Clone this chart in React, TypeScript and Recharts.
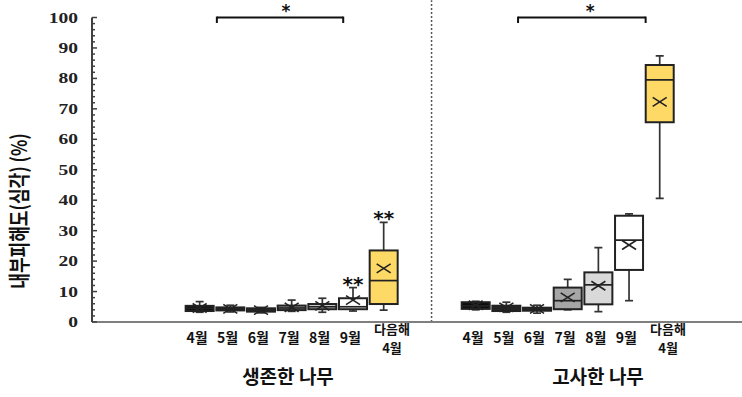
import React from 'react';
import { ComposedChart, Bar, XAxis, YAxis, ReferenceLine, Customized } from 'recharts';

// ---- data ----
const months = ['4월', '5월', '6월', '7월', '8월', '9월', '다음해\n4월'];
const groupTitles = ['생존한 나무', '고사한 나무'];
const yTicks = [0, 10, 20, 30, 40, 50, 60, 70, 80, 90, 100];

const survivedMin = [3.2, 3.3, 3.0, 3.5, 3.2, 3.6, 3.9];
const survivedQ1 = [3.6, 3.8, 3.4, 3.9, 4.2, 4.2, 5.9];
const survivedMedian = [4.5, 4.3, 3.9, 4.6, 5.0, 5.0, 13.6];
const survivedQ3 = [5.3, 4.8, 4.5, 5.4, 5.9, 7.8, 23.5];
const survivedMax = [6.7, 5.5, 4.8, 7.2, 7.8, 11.3, 32.7];
const survivedMean = [4.6, 4.3, 3.9, 4.8, 5.3, 7.2, 17.6];
const survivedSig = ['', '', '', '', '', '**', '**'];

const deadMin = [4.0, 3.2, 2.9, 4.0, 3.4, 7.0, 40.6];
const deadQ1 = [4.3, 3.6, 3.7, 4.2, 5.8, 17.1, 65.6];
const deadMedian = [5.3, 4.5, 4.2, 7.0, 12.2, 26.9, 79.5];
const deadQ3 = [6.5, 5.35, 4.7, 11.3, 16.3, 34.9, 84.4];
const deadMax = [6.8, 6.5, 5.5, 14.0, 24.4, 35.5, 87.4];
const deadMean = [5.5, 4.8, 4.3, 8.1, 11.9, 25.3, 72.3];
const deadSig = ['', '', '', '', '', '', ''];

// significance brackets (in x-slot units) between month groups
const bracketFrom = [0.55, 10.37];
const bracketTo = [4.67, 14.53];
const bracketStar = [2.8, 12.72];

const fills = ['#0d0d0d', '#262626', '#3a3a3a', '#a6a6a6', '#d9d9d9', '#ffffff', '#ffd966'];

const GAP = 9; // slot offset of second group
const rows = [
  ...months.map((m, i) => ({
    slot: i, min: survivedMin[i], q1: survivedQ1[i], med: survivedMedian[i], q3: survivedQ3[i],
    max: survivedMax[i], mean: survivedMean[i], sig: survivedSig[i], fill: fills[i],
  })),
  ...months.map((m, i) => ({
    slot: i + GAP, min: deadMin[i], q1: deadQ1[i], med: deadMedian[i], q3: deadQ3[i],
    max: deadMax[i], mean: deadMean[i], sig: deadSig[i], fill: fills[i],
  })),
];

const minorTicks: number[] = [];
for (let v = 0; v <= 100; v += 2) minorTicks.push(v);

const KR = '"Noto Sans CJK KR", "Noto Sans", sans-serif';
const EDGE = '#222';

const BoxShape = (props: any) => {
  const { x, y, width, height } = props;
  const d = props.payload || props;
  const top = Math.min(y, y + height);
  const bottom = Math.max(y, y + height);
  const span = d.max - d.min || 1;
  const py = (v: number) => bottom - ((v - d.min) / span) * (bottom - top);
  const cx = x + width / 2;
  const cap = 4;
  const mx = 7;
  const my = 4.5;
  return (
    <g>
      <line x1={cx} x2={cx} y1={py(d.max)} y2={py(d.q3)} stroke="#333" strokeWidth={1.7} />
      <line x1={cx} x2={cx} y1={py(d.q1)} y2={py(d.min)} stroke="#333" strokeWidth={1.7} />
      <line x1={cx - cap} x2={cx + cap} y1={py(d.max)} y2={py(d.max)} stroke="#333" strokeWidth={1.7} />
      <line x1={cx - cap} x2={cx + cap} y1={py(d.min)} y2={py(d.min)} stroke="#333" strokeWidth={1.7} />
      <rect x={x} y={py(d.q3)} width={width} height={Math.max(py(d.q1) - py(d.q3), 1)} fill={d.fill} stroke={EDGE} strokeWidth={2} />
      <line x1={x} x2={x + width} y1={py(d.med)} y2={py(d.med)} stroke={EDGE} strokeWidth={1.7} />
      <line x1={cx - mx} x2={cx + mx} y1={py(d.mean) - my} y2={py(d.mean) + my} stroke={EDGE} strokeWidth={1.6} />
      <line x1={cx - mx} x2={cx + mx} y1={py(d.mean) + my} y2={py(d.mean) - my} stroke={EDGE} strokeWidth={1.6} />
      {d.sig ? (
        <text x={cx} y={py(d.max) + 3} textAnchor="middle" fontSize={20} fontWeight="bold" fontFamily="DejaVu Sans" fill="#111">
          {d.sig}
        </text>
      ) : null}
    </g>
  );
};

const XTick = (props: any) => {
  const { x, y, payload } = props;
  const slot = payload.value;
  const idx = slot >= GAP ? slot - GAP : slot;
  const lines = months[idx].split('\n');
  if (lines.length === 1) {
    return (
      <text x={x - 3} y={y + 21} textAnchor="middle" fontSize={14} fontWeight="bold" fontFamily={KR} fill="#111">
        {lines[0]}
      </text>
    );
  }
  return (
    <g>
      <text x={x + 8} y={y + 12} textAnchor="middle" fontSize={13} fontWeight="bold" fontFamily={KR} fill="#111">
        {lines[0]}
      </text>
      <text x={x + 8} y={y + 31} textAnchor="middle" fontSize={13} fontWeight="bold" fontFamily={KR} fill="#111">
        {lines[1]}
      </text>
    </g>
  );
};

const YTick = (props: any) => {
  const { x, y, payload } = props;
  const v = payload.value;
  const major = yTicks.includes(v);
  return (
    <g>
      <line x1={x} x2={x + (major ? 5 : 3)} y1={y} y2={y} stroke="#404040" strokeWidth={1.5} />
      {major ? (
        <text
          transform={`translate(${x - 14},${y + 5}) scale(1.3,1)`}
          textAnchor="end"
          fontSize={15}
          fontWeight="bold"
          fontFamily='"Liberation Serif", serif'
          fill="#222"
        >
          {v}
        </text>
      ) : null}
    </g>
  );
};

const StarLabel = (props: any) => {
  const sx = props.starX;
  return (
    <text x={sx} y={16.5} textAnchor="middle" fontSize={17} fontWeight="bold" fontFamily="DejaVu Sans" fill="#111">
      *
    </text>
  );
};

const Titles = () => (
  <g>
    <text x={288} y={384} textAnchor="middle" fontSize={19} fontWeight="bold" fontFamily={KR} fill="#111">
      {groupTitles[0]}
    </text>
    <text x={598} y={384} textAnchor="middle" fontSize={19} fontWeight="bold" fontFamily={KR} fill="#111">
      {groupTitles[1]}
    </text>
    <text
      transform="translate(27,211) rotate(-90) scale(1,1.25)"
      textAnchor="middle"
      fontSize={17}
      fontWeight="bold"
      fontFamily={KR}
      fill="#111"
    >
      내부피해도(심각) (%)
    </text>
  </g>
);

const X0 = -3.521;
const X1 = 17.672;
const pxPerSlot = 650 / (X1 - X0);
const slotToPx = (s: number) => 92 + (s - X0) * pxPerSlot;

export default function App() {
  return (
    <div style={{ position: 'absolute', left: 0, top: 0, width: 742, height: 397, background: '#fff' }}>
      <ComposedChart width={742} height={397} data={rows} margin={{ top: 17.5, right: 0, bottom: 0, left: 0 }}>
        <XAxis
          dataKey="slot"
          type="number"
          domain={[X0, X1]}
          allowDataOverflow
          ticks={rows.map((r) => r.slot)}
          interval={0}
          tickLine={false}
          tickSize={0}
          tickMargin={0}
          height={75}
          axisLine={{ stroke: '#7f7f7f', strokeWidth: 2 }}
          tick={<XTick />}
        />
        <YAxis
          type="number"
          domain={[0, 100]}
          allowDataOverflow
          ticks={minorTicks}
          interval={0}
          width={92}
          tickLine={false}
          tickSize={0}
          tickMargin={0}
          axisLine={{ stroke: '#404040', strokeWidth: 2 }}
          tick={<YTick />}
        />
        <ReferenceLine
          segment={[{ x: 7.55, y: 0 }, { x: 7.55, y: 105.7 }]}
          stroke="#555"
          strokeWidth={1.5}
          strokeDasharray="2 2"
          ifOverflow="visible"
        />
        {bracketFrom.map((b, i) => (
          <ReferenceLine
            key={'h' + i}
            segment={[{ x: b, y: 100 }, { x: bracketTo[i], y: 100 }]}
            stroke="#111"
            strokeWidth={2}
            ifOverflow="visible"
            label={<StarLabel starX={slotToPx(bracketStar[i])} />}
          />
        ))}
        {bracketFrom.map((b, i) => (
          <ReferenceLine
            key={'l' + i}
            segment={[{ x: b, y: 100.3 }, { x: b, y: 98.2 }]}
            stroke="#111"
            strokeWidth={2}
            ifOverflow="visible"
          />
        ))}
        {bracketTo.map((b, i) => (
          <ReferenceLine
            key={'r' + i}
            segment={[{ x: b, y: 100.3 }, { x: b, y: 98.2 }]}
            stroke="#111"
            strokeWidth={2}
            ifOverflow="visible"
          />
        ))}
        <Bar dataKey={(d: any) => [d.min, d.max]} barSize={28} shape={BoxShape} isAnimationActive={false} />
        <Customized component={Titles} />
      </ComposedChart>
    </div>
  );
}
